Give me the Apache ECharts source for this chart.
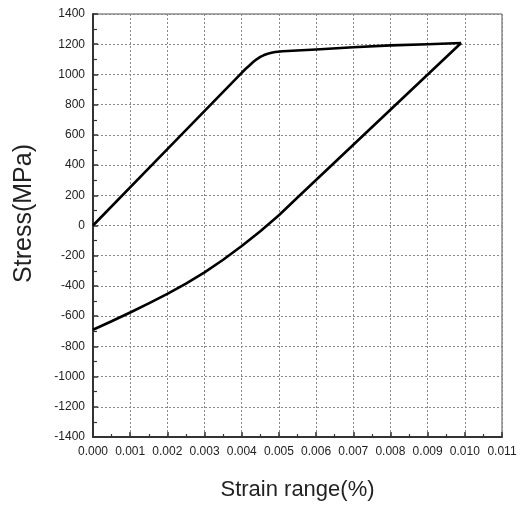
<!DOCTYPE html>
<html>
<head>
<meta charset="utf-8">
<script src="https://cdn.jsdelivr.net/npm/echarts@6/dist/echarts.min.js"></script>
<style>
html,body{margin:0;padding:0;background:#fff;}
#c{width:521px;height:506px;}
</style>
</head>
<body>
<div id="c"></div>
<script>
// Loading branch (strain, stress)
var loadStrain = [0, 0.002, 0.00396, 0.0041, 0.0042, 0.0043, 0.0044, 0.0045, 0.0046, 0.0047, 0.0048, 0.0049, 0.0051, 0.006, 0.007, 0.008, 0.009, 0.0099];
var loadStress = [0, 505, 1000, 1036, 1058, 1080, 1100, 1116, 1128, 1137, 1143, 1148, 1153, 1165, 1180, 1192, 1200, 1208];
// Unloading branch
var unloadStrain = [0.0099, 0.0055, 0.005, 0.0045, 0.004, 0.0035, 0.003, 0.0025, 0.002, 0.0015, 0.001, 0.0005, 0];
var unloadStress = [1208, 185, 68, -38, -136, -227, -310, -385, -453, -516, -576, -634, -690];
// Axis settings
var xMin = 0, xMax = 0.011, xStep = 0.001;
var yMin = -1400, yMax = 1400, yStep = 200;

function pairs(xs, ys) { return xs.map(function (x, i) { return [x, ys[i]]; }); }

var chart = echarts.init(document.getElementById('c'), null, { renderer: 'canvas' });
var lineStyle = { color: '#000', width: 2.6, join: 'round' };
chart.setOption({
  animation: false,
  backgroundColor: '#fff',
  grid: { left: 93, right: 19, top: 14, bottom: 69, show: true, borderColor: '#555', borderWidth: 1, backgroundColor: 'transparent' },
  xAxis: {
    type: 'value', min: xMin, max: xMax, interval: xStep,
    name: 'Strain range(%)', nameLocation: 'middle', nameGap: 42,
    nameTextStyle: { fontFamily: 'Liberation Sans Narrow, Liberation Sans', fontSize: 22, color: '#222' },
    axisLine: { show: true, onZero: false, lineStyle: { color: '#333', width: 2 } },
    axisTick: { show: true, inside: true, length: 5, lineStyle: { color: '#333', width: 1.5 } },
    minorTick: { show: true, splitNumber: 2, length: 3, lineStyle: { color: '#333', width: 1.2 } },
    axisLabel: { margin: 9, fontFamily: 'Liberation Sans', fontSize: 12, color: '#222', formatter: function (v) { return v.toFixed(3); } },
    splitLine: { show: true, lineStyle: { color: '#888', type: [2, 2], width: 1 } }
  },
  yAxis: {
    type: 'value', min: yMin, max: yMax, interval: yStep,
    name: 'Stress(MPa)', nameLocation: 'middle', nameGap: 56, nameRotate: 90,
    nameTextStyle: { fontFamily: 'Liberation Sans', fontSize: 25, color: '#222', padding: [0, 0, 0, 24] },
    axisLine: { show: true, onZero: false, lineStyle: { color: '#333', width: 2 } },
    axisTick: { show: true, inside: true, length: 5, lineStyle: { color: '#333', width: 1.5 } },
    minorTick: { show: true, splitNumber: 2, length: 4, lineStyle: { color: '#333', width: 1.2 } },
    axisLabel: { margin: 8, fontFamily: 'Liberation Sans', fontSize: 12, color: '#222', formatter: function (v) { return String(v); } },
    splitLine: { show: true, lineStyle: { color: '#888', type: [2, 2], width: 1 } }
  },
  series: [
    { type: 'line', data: pairs(loadStrain, loadStress), showSymbol: false, smooth: false, lineStyle: lineStyle },
    { type: 'line', data: pairs(unloadStrain, unloadStress), showSymbol: false, smooth: false, lineStyle: lineStyle }
  ]
});
</script>
</body>
</html>
